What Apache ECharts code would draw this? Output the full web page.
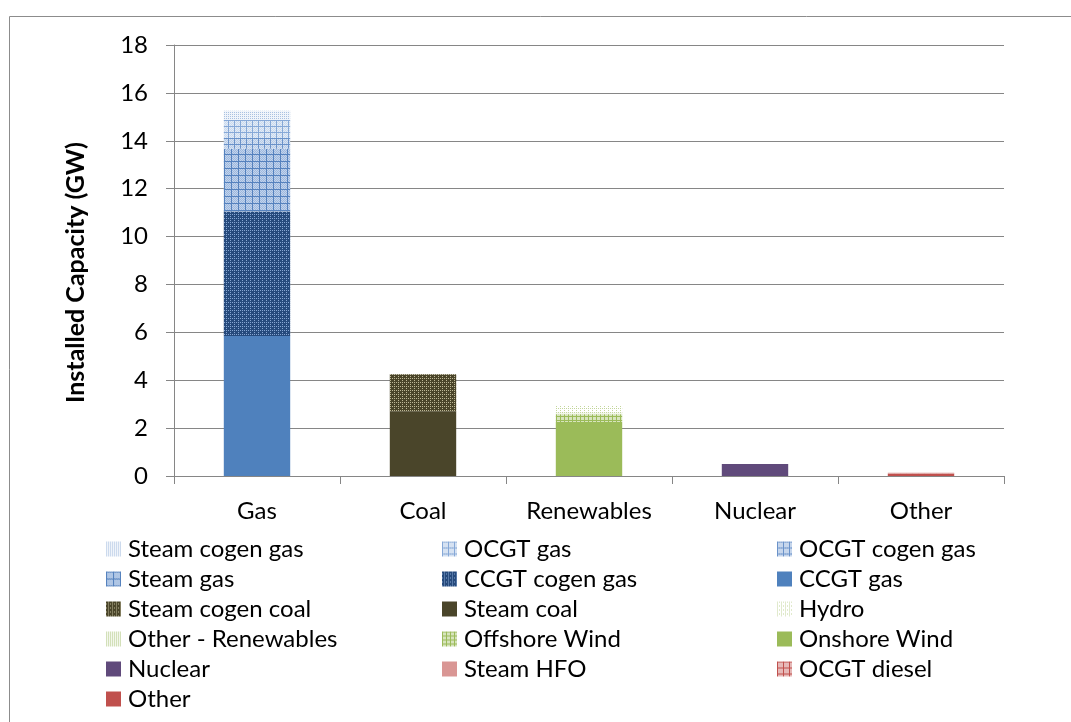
<!DOCTYPE html>
<html>
<head>
<meta charset="utf-8">
<script src="https://cdn.jsdelivr.net/npm/echarts@6/dist/echarts.min.js"></script>
<style>
html,body{margin:0;padding:0;background:#fff;}
#chart{width:1071px;height:722px;}
</style>
</head>
<body>
<div id="chart"></div>
<script>
// ---- data ----
const categories = ['Gas', 'Coal', 'Renewables', 'Nuclear', 'Other'];
const yTicks = [0, 2, 4, 6, 8, 10, 12, 14, 16, 18];
// stacking order bottom -> top
const ccgtGas        = [5.85, 0, 0, 0, 0];
const ccgtCogenGas   = [5.2, 0, 0, 0, 0];
const steamGas       = [2.62, 0, 0, 0, 0];
const ocgtCogenGas   = [0.45, 0, 0, 0, 0];
const ocgtGas        = [0.75, 0, 0, 0, 0];
const steamCogenGas  = [0.38, 0, 0, 0, 0];
const steamCoal      = [0, 2.68, 0, 0, 0];
const steamCogenCoal = [0, 1.57, 0, 0, 0];
const onshoreWind    = [0, 0, 2.26, 0, 0];
const offshoreWind   = [0, 0, 0.32, 0, 0];
const otherRenew     = [0, 0, 0.08, 0, 0];
const hydro          = [0, 0, 0.26, 0, 0];
const nuclear        = [0, 0, 0, 0.5, 0];
const other          = [0, 0, 0, 0, 0.08];
const ocgtDiesel     = [0, 0, 0, 0, 0.01];
const steamHFO       = [0, 0, 0, 0, 0.05];

const legendCol1 = ['Steam cogen gas', 'Steam gas', 'Steam cogen coal', 'Other - Renewables', 'Nuclear', 'Other'];
const legendCol2 = ['OCGT gas', 'CCGT cogen gas', 'Steam coal', 'Offshore Wind', 'Steam HFO'];
const legendCol3 = ['OCGT cogen gas', 'CCGT gas', 'Hydro', 'Onshore Wind', 'OCGT diesel'];

// ---- fill patterns ----
function tile(size, bg, fg, fn, fg2, fn2) {
  const c = document.createElement('canvas');
  c.width = size; c.height = size;
  const g = c.getContext('2d');
  g.fillStyle = bg; g.fillRect(0, 0, size, size);
  for (let y = 0; y < size; y++) for (let x = 0; x < size; x++) {
    if (fn2 && fn2(x, y)) { g.fillStyle = fg2; g.fillRect(x, y, 1, 1); }
    if (fn(x, y)) { g.fillStyle = fg; g.fillRect(x, y, 1, 1); }
  }
  return { image: c, repeat: 'repeat' };
}
const P = {
  steamCogenGas: tile(4, '#f0f4fa', '#a9c1e1', (x, y) => x % 2 === 0 && y % 2 === 0),
  ocgtGas: tile(6, '#c9d9ee', '#86a8d7', (x, y) => x === 0 || y === 0, '#e4ecf6', (x, y) => (x + y) % 2 === 0),
  ocgtCogenGas: tile(6, '#b6cbe7', '#6a92c9', (x, y) => x === 0 || y === 0, '#d6e2f2', (x, y) => (x + y) % 2 === 0),
  steamGas: tile(7, '#9db8de', '#5582be', (x, y) => x === 0 || y === 0, '#c2d4ec', (x, y) => (x + y) % 2 === 0),
  ccgtCogenGas: tile(4, '#264a7c', '#86a6d2', (x, y) => (x === 2 && y % 2 === 0) || (y === 2 && x % 2 === 0)),
  steamCogenCoal: tile(4, '#4a452a', '#bdb796', (x, y) => (x === 2 || y === 2) && (x + y) % 2 === 0),
  otherRenew: tile(4, '#f3f7ec', '#b3ca86', (x, y) => x % 2 === 0 && y % 2 === 0),
  offshoreWind: tile(4, '#d7e4bd', '#9bbb59', (x, y) => x === 0 || y === 0),
  hydro: tile(4, '#ffffff', '#c3d69b', (x, y) => (x === 0 || y === 0) && (x + y) % 2 === 0),
  ocgtDiesel: tile(6, '#e6b9b8', '#c0504d', (x, y) => x === 0 || y === 0)
};

const seriesDefs = [
  ['CCGT gas', ccgtGas, '#4f81bd'],
  ['CCGT cogen gas', ccgtCogenGas, P.ccgtCogenGas],
  ['Steam gas', steamGas, P.steamGas],
  ['OCGT cogen gas', ocgtCogenGas, P.ocgtCogenGas],
  ['OCGT gas', ocgtGas, P.ocgtGas],
  ['Steam cogen gas', steamCogenGas, P.steamCogenGas],
  ['Steam coal', steamCoal, '#4a452a'],
  ['Steam cogen coal', steamCogenCoal, P.steamCogenCoal],
  ['Onshore Wind', onshoreWind, '#9bbb59'],
  ['Offshore Wind', offshoreWind, P.offshoreWind],
  ['Other - Renewables', otherRenew, P.otherRenew],
  ['Hydro', hydro, P.hydro],
  ['Nuclear', nuclear, '#604a7b'],
  ['Other', other, '#c0504d'],
  ['OCGT diesel', ocgtDiesel, P.ocgtDiesel],
  ['Steam HFO', steamHFO, '#d99694']
];

const FONT = 'Lato';
const FS = 24;
const series = seriesDefs.map(([name, data, color]) => ({
  name, type: 'bar', stack: 'total', data,
  barWidth: '40%',
  itemStyle: { color },
  emphasis: { disabled: true }
}));

function legendCol(data, left) {
  return {
    data, left, top: 534, height: 220, orient: 'vertical', icon: 'rect', padding: 0,
    itemWidth: 15, itemHeight: 15, itemGap: 0,
    textStyle: { fontFamily: FONT, fontSize: FS, color: '#000', lineHeight: 30, padding: [0, 0, 0, 2] },
    selectedMode: false
  };
}

const chart = echarts.init(document.getElementById('chart'), null, { renderer: 'canvas' });
chart.setOption({
  animation: false,
  backgroundColor: '#fff',
  graphic: [{
    type: 'rect', silent: true,
    shape: { x: 9.5, y: 16.5, width: 1100, height: 800 },
    style: { fill: 'none', stroke: '#8c8c8c', lineWidth: 1 }
  }],
  grid: { left: 174, right: 67, top: 45, bottom: 246 },
  legend: [legendCol(legendCol1, 106), legendCol(legendCol2, 442), legendCol(legendCol3, 777)],
  xAxis: {
    type: 'category', data: categories,
    axisLine: { lineStyle: { color: '#868686', width: 1 } },
    axisTick: { show: true, length: 8, lineStyle: { color: '#868686' } },
    axisLabel: { fontFamily: FONT, fontSize: FS, color: '#000', margin: 23 }
  },
  yAxis: {
    type: 'value', min: yTicks[0], max: yTicks[yTicks.length - 1], interval: 2,
    name: 'Installed Capacity (GW)', nameLocation: 'middle', nameGap: 86,
    nameTextStyle: { fontFamily: FONT, fontSize: 25, fontWeight: 'bold', color: '#000', padding: [0, 24, 0, 0] },
    axisLine: { show: true, lineStyle: { color: '#868686', width: 1 } },
    axisTick: { show: true, length: 8, lineStyle: { color: '#868686' } },
    splitLine: { show: true, lineStyle: { color: '#868686', width: 1 } },
    axisLabel: { fontFamily: FONT, fontSize: FS, color: '#000', margin: 26 }
  },
  series
});
</script>
</body>
</html>
